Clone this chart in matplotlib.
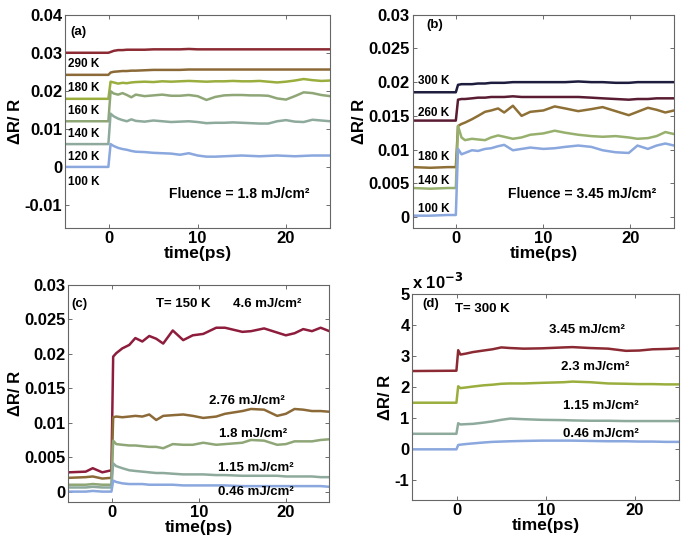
import numpy as np
import matplotlib
matplotlib.use("Agg")
import matplotlib.pyplot as plt

plt.rcParams['font.family'] = ['Liberation Sans', 'DejaVu Sans']
plt.rcParams['font.weight'] = 'bold'

# ---------------- panel (a): fluence 1.8 mJ/cm2, various T ----------------
t_a = [-5, -0.1, 0.15, 0.5, 1, 1.5, 2, 2.5, 3, 4, 5, 6, 7, 8, 9, 10, 11, 12, 13, 14,
       15, 16, 17, 18, 19, 20, 21, 22, 23, 24, 25]
a_290 = [0.0300, 0.0300, 0.0302, 0.0305, 0.0307, 0.0307, 0.0308, 0.0308, 0.0308, 0.0308, 0.0309,
         0.0309, 0.0309, 0.0309, 0.0310, 0.0309, 0.0309, 0.0309, 0.0309, 0.0309, 0.0309, 0.0309,
         0.0309, 0.0309, 0.0309, 0.0309, 0.0309, 0.0309, 0.0309, 0.0309, 0.0309]
a_180 = [0.0242, 0.0242, 0.0248, 0.0250, 0.0251, 0.0252, 0.0252, 0.0253, 0.0253, 0.0254, 0.0255,
         0.0255, 0.0255, 0.0255, 0.0256, 0.0256, 0.0256, 0.0256, 0.0256, 0.0256, 0.0256, 0.0256,
         0.0256, 0.0256, 0.0256, 0.0256, 0.0256, 0.0256, 0.0256, 0.0256, 0.0256]
a_160 = [0.0179, 0.0179, 0.0224, 0.0222, 0.0219, 0.0221, 0.0220, 0.0222, 0.0223, 0.0224, 0.0223,
         0.0225, 0.0224, 0.0225, 0.0226, 0.0225, 0.0224, 0.0225, 0.0225, 0.0226, 0.0225, 0.0225,
         0.0226, 0.0224, 0.0222, 0.0224, 0.0227, 0.0231, 0.0228, 0.0226, 0.0227]
a_140 = [0.0120, 0.0120, 0.0199, 0.0193, 0.0190, 0.0194, 0.0189, 0.0183, 0.0190, 0.0186, 0.0188,
         0.0190, 0.0187, 0.0187, 0.0189, 0.0186, 0.0176, 0.0184, 0.0188, 0.0189, 0.0189, 0.0188,
         0.0188, 0.0187, 0.0180, 0.0177, 0.0186, 0.0196, 0.0194, 0.0189, 0.0186]
a_120 = [0.0060, 0.0060, 0.0140, 0.0133, 0.0127, 0.0123, 0.0120, 0.0125, 0.0121, 0.0119, 0.0122,
         0.0120, 0.0118, 0.0119, 0.0120, 0.0118, 0.0115, 0.0116, 0.0116, 0.0117, 0.0116, 0.0115,
         0.0114, 0.0114, 0.0120, 0.0123, 0.0119, 0.0118, 0.0124, 0.0122, 0.0120]
a_100 = [0.0000, 0.0000, 0.0060, 0.0055, 0.0050, 0.0047, 0.0045, 0.0042, 0.0040, 0.0039, 0.0037,
         0.0036, 0.0035, 0.0032, 0.0036, 0.0030, 0.0027, 0.0027, 0.0028, 0.0029, 0.0030, 0.0029,
         0.0028, 0.0029, 0.0030, 0.0029, 0.0028, 0.0029, 0.0030, 0.0030, 0.0030]
a_labels = ['290 K', '180 K', '160 K', '140 K', '120 K', '100 K']
a_label_y = [0.0271, 0.0208, 0.0148, 0.0087, 0.0026, -0.0039]

# ---------------- panel (b): fluence 3.45 mJ/cm2, various T ----------------
t_b = [-5, -3, -1, -0.05, 0.2, 0.6, 1, 1.8, 2.5, 3.3, 4, 4.8, 5.5, 6.5, 7.5, 8.5, 10, 11.3,
       12.5, 14, 15.5, 16.8, 18.3, 19.8, 20.8, 22, 23, 24, 25]
b_300 = [0.0185, 0.0185, 0.0185, 0.0185, 0.0196, 0.0197, 0.0197, 0.0197, 0.0198, 0.0198, 0.0199,
         0.0199, 0.0199, 0.0200, 0.0200, 0.0200, 0.0200, 0.0200, 0.0200, 0.0201, 0.0200, 0.0200,
         0.0199, 0.0199, 0.0200, 0.0200, 0.0200, 0.0200, 0.0200]
b_260 = [0.0143, 0.0143, 0.0143, 0.0143, 0.0174, 0.0175, 0.0175, 0.0176, 0.0177, 0.0177, 0.0178,
         0.0178, 0.0178, 0.0179, 0.0178, 0.0178, 0.0178, 0.0178, 0.0178, 0.0178, 0.0177, 0.0176,
         0.0175, 0.0174, 0.0175, 0.0175, 0.0176, 0.0176, 0.0176]
b_180 = [0.0074, 0.0073, 0.0074, 0.0074, 0.0135, 0.0138, 0.0140, 0.0145, 0.0150, 0.0156, 0.0158,
         0.0161, 0.0155, 0.0165, 0.0150, 0.0156, 0.0158, 0.0164, 0.0161, 0.0157, 0.0160, 0.0163,
         0.0157, 0.0151, 0.0156, 0.0162, 0.0159, 0.0155, 0.0158]
b_140 = [0.0043, 0.0042, 0.0043, 0.0043, 0.0135, 0.0118, 0.0114, 0.0116, 0.0115, 0.0114, 0.0118,
         0.0121, 0.0119, 0.0116, 0.0118, 0.0122, 0.0124, 0.0128, 0.0125, 0.0122, 0.0120, 0.0119,
         0.0120, 0.0118, 0.0116, 0.0117, 0.0120, 0.0126, 0.0123]
b_100 = [0.0002, 0.0002, 0.0003, 0.0003, 0.0101, 0.0093, 0.0095, 0.0099, 0.0098, 0.0101, 0.0102,
         0.0105, 0.0107, 0.0099, 0.0101, 0.0103, 0.0101, 0.0102, 0.0104, 0.0106, 0.0104, 0.0099,
         0.0096, 0.0095, 0.0106, 0.0101, 0.0106, 0.0109, 0.0106]
b_labels = ['300 K', '260 K', '180 K', '140 K', '100 K']
b_label_y = [0.0201, 0.0154, 0.0089, 0.0054, 0.0012]

# ---------------- panel (c): T = 150 K, various fluences ----------------
t_c = [-5, -3, -2.2, -1.1, -0.05, 0.15, 0.5, 1.2, 2, 2.7, 3.5, 4.3, 5.1, 5.9, 7, 8.2, 9.3,
       10.5, 12, 13, 15, 16, 17.5, 19, 20, 21, 22, 23, 24, 25]
c_460 = [0.0028, 0.0029, 0.0034, 0.0028, 0.0031, 0.0196, 0.0201, 0.0208, 0.0213, 0.0223, 0.0218,
         0.0226, 0.0222, 0.0215, 0.0234, 0.0220, 0.0227, 0.0229, 0.0238, 0.0238, 0.0232, 0.0233,
         0.0237, 0.0231, 0.0227, 0.0230, 0.0236, 0.0233, 0.0238, 0.0233]
c_276 = [0.0020, 0.0021, 0.0022, 0.0019, 0.0020, 0.0108, 0.0109, 0.0108, 0.0109, 0.0110, 0.0109,
         0.0112, 0.0104, 0.0110, 0.0111, 0.0112, 0.0110, 0.0107, 0.0109, 0.0113, 0.0117, 0.0120,
         0.0119, 0.0110, 0.0113, 0.0120, 0.0119, 0.0117, 0.0117, 0.0116]
c_180 = [0.0010, 0.0010, 0.0011, 0.0010, 0.0010, 0.0074, 0.0069, 0.0068, 0.0067, 0.0067, 0.0066,
         0.0065, 0.0065, 0.0063, 0.0069, 0.0068, 0.0068, 0.0071, 0.0068, 0.0069, 0.0071, 0.0075,
         0.0074, 0.0068, 0.0069, 0.0073, 0.0073, 0.0073, 0.0075, 0.0076]
c_115 = [0.0006, 0.0006, 0.0007, 0.0006, 0.0006, 0.0041, 0.0037, 0.0034, 0.0031, 0.0030, 0.0029,
         0.0028, 0.0027, 0.0027, 0.0026, 0.0025, 0.0025, 0.0025, 0.0024, 0.0024, 0.0023, 0.0023,
         0.0023, 0.0023, 0.0022, 0.0022, 0.0022, 0.0022, 0.0021, 0.0021]
c_046 = [0.0000, 0.0000, 0.0001, 0.0000, 0.0000, 0.0016, 0.0014, 0.0012, 0.0011, 0.0011, 0.0011,
         0.0010, 0.0010, 0.0010, 0.0010, 0.0009, 0.0009, 0.0009, 0.0009, 0.0009, 0.0008, 0.0008,
         0.0008, 0.0008, 0.0008, 0.0008, 0.0008, 0.0008, 0.0008, 0.0007]
c_labels = ['2.76 mJ/cm²', '1.8 mJ/cm²', '1.15 mJ/cm²', '0.46 mJ/cm²']
c_label_x = [15.5, 16.2, 16.6, 16.6]
c_label_y = [0.0132, 0.0084, 0.0035, 0.0000]

# ---------------- panel (d): T = 300 K, various fluences (x 1e-3) ----------------
t_d = [-5, -0.05, 0.15, 0.4, 1, 1.8, 3, 4, 5, 6, 7.5, 9.5, 12, 13, 15, 17, 19, 20.5, 22, 23.5, 25]
d_345 = [2.52, 2.53, 3.19, 3.05, 3.08, 3.13, 3.18, 3.22, 3.28, 3.26, 3.24, 3.25, 3.28, 3.29, 3.26,
         3.24, 3.17, 3.18, 3.22, 3.23, 3.25]
d_230 = [1.50, 1.50, 2.03, 1.97, 1.99, 2.02, 2.06, 2.08, 2.11, 2.12, 2.12, 2.14, 2.16, 2.18, 2.16,
         2.12, 2.11, 2.10, 2.10, 2.09, 2.09]
d_115 = [0.50, 0.50, 0.84, 0.80, 0.81, 0.82, 0.86, 0.90, 0.95, 0.99, 0.97, 0.95, 0.94, 0.93, 0.92,
         0.92, 0.91, 0.91, 0.91, 0.91, 0.91]
d_046 = [0.00, 0.00, 0.14, 0.15, 0.17, 0.19, 0.22, 0.24, 0.25, 0.26, 0.27, 0.28, 0.28, 0.28, 0.27,
         0.26, 0.26, 0.25, 0.25, 0.24, 0.24]
d_labels = ['3.45 mJ/cm²', '2.3 mJ/cm²', '1.15 mJ/cm²', '0.46 mJ/cm²']
d_label_x = [14.6, 15.5, 16.2, 16.2]
d_label_y = [3.84, 2.64, 1.41, 0.48]

# colours
RED = '#8c2a33'
BROWN = '#8c6a38'
YGREEN = '#9aae3e'
GGREEN = '#8fa677'
TEAL = '#8eaa9c'
BLUE = '#8aa7de'
NAVY = '#1e1d3e'
MAROON = '#5a1c32'
GOLD = '#8e7036'
LGREEN = '#98b06e'
CRIMSON = '#8e1c3c'

fig = plt.figure(figsize=(6.85, 5.45), dpi=100)
ax_a = fig.add_axes([0.095, 0.582, 0.387, 0.391])
ax_b = fig.add_axes([0.6025, 0.582, 0.3815, 0.391])
ax_c = fig.add_axes([0.0998, 0.079, 0.381, 0.398])
ax_d = fig.add_axes([0.602, 0.0826, 0.3897, 0.378])

lw = 1.8


def style(ax, ylim, yticks, yticklabels):
    ax.set_xlim(-5, 25)
    ax.set_ylim(*ylim)
    ax.set_xticks([0, 10, 20])
    ax.set_yticks(yticks)
    ax.set_yticklabels(yticklabels)
    ax.tick_params(direction='in', top=True, right=True, length=3, width=0.6,
                   labelsize=12, colors='#555555', labelcolor='black', pad=2)
    for s in ax.spines.values():
        s.set_color('#666666')
        s.set_linewidth(0.8)
    ax.set_xlabel('time(ps)', fontsize=12.5, fontweight='bold', labelpad=0)
    ax.set_ylabel('ΔR/ R', fontsize=12, fontweight='bold', labelpad=1)


# (a)
for vals, col in zip([a_290, a_180, a_160, a_140, a_120, a_100],
                     [RED, BROWN, YGREEN, GGREEN, TEAL, BLUE]):
    ax_a.plot(t_a, vals, color=col, lw=lw)
style(ax_a, (-0.016, 0.04), [-0.01, 0, 0.01, 0.02, 0.03, 0.04],
      ['-0.01', '0', '0.01', '0.02', '0.03', '0.04'])
for lab, y in zip(a_labels, a_label_y):
    ax_a.text(-4.7, y, lab, fontsize=8.5, fontweight='bold', va='center', ha='left')
ax_a.text(-4.4, 0.0354, '(a)', fontsize=9.5, fontweight='bold', va='center')
ax_a.text(6.8, -0.0072, 'Fluence = 1.8 mJ/cm²', fontsize=10, fontweight='bold', va='center')

# (b)
for vals, col in zip([b_300, b_260, b_180, b_140, b_100], [NAVY, MAROON, GOLD, LGREEN, BLUE]):
    ax_b.plot(t_b, vals, color=col, lw=lw)
style(ax_b, (-0.0016, 0.03), [0, 0.005, 0.01, 0.015, 0.02, 0.025, 0.03],
      ['0', '0.005', '0.01', '0.015', '0.02', '0.025', '0.03'])
for lab, y in zip(b_labels, b_label_y):
    ax_b.text(-4.4, y, lab, fontsize=8.5, fontweight='bold', va='center', ha='left')
ax_b.text(-3.4, 0.0285, '(b)', fontsize=9.5, fontweight='bold', va='center')
ax_b.text(5.9, 0.0034, 'Fluence = 3.45 mJ/cm²', fontsize=10, fontweight='bold', va='center')

# (c)
for vals, col in zip([c_460, c_276, c_180, c_115, c_046], [CRIMSON, BROWN, GGREEN, TEAL, BLUE]):
    ax_c.plot(t_c, vals, color=col, lw=lw)
style(ax_c, (-0.0015, 0.03), [0, 0.005, 0.01, 0.015, 0.02, 0.025, 0.03],
      ['0', '0.005', '0.01', '0.015', '0.02', '0.025', '0.03'])
for lab, x, y in zip(c_labels, c_label_x, c_label_y):
    ax_c.text(x, y, lab, fontsize=9.5, fontweight='bold', va='center', ha='center')
ax_c.text(-4.6, 0.0272, '(c)', fontsize=9.5, fontweight='bold', va='center')
ax_c.text(5.1, 0.0272, 'T= 150 K', fontsize=9.5, fontweight='bold', va='center')
ax_c.text(13.9, 0.0272, '4.6 mJ/cm²', fontsize=9.5, fontweight='bold', va='center')

# (d)
for vals, col in zip([d_345, d_230, d_115, d_046], [RED, YGREEN, TEAL, BLUE]):
    ax_d.plot(t_d, vals, color=col, lw=lw)
style(ax_d, (-1.63, 5), [-1, 0, 1, 2, 3, 4, 5], ['-1', '0', '1', '2', '3', '4', '5'])
for lab, x, y in zip(d_labels, d_label_x, d_label_y):
    ax_d.text(x, y, lab, fontsize=9.5, fontweight='bold', va='center', ha='center')
ax_d.text(-3.9, 4.68, '(d)', fontsize=9.5, fontweight='bold', va='center')
ax_d.text(-0.2, 4.52, 'T= 300 K', fontsize=9.5, fontweight='bold', va='center')
ax_d.text(0.0, 1.01, 'x 10$^{\\mathbf{-3}}$', transform=ax_d.transAxes, fontsize=12,
          fontweight='bold', va='bottom', ha='left')

fig.savefig('out.png', dpi=100)
